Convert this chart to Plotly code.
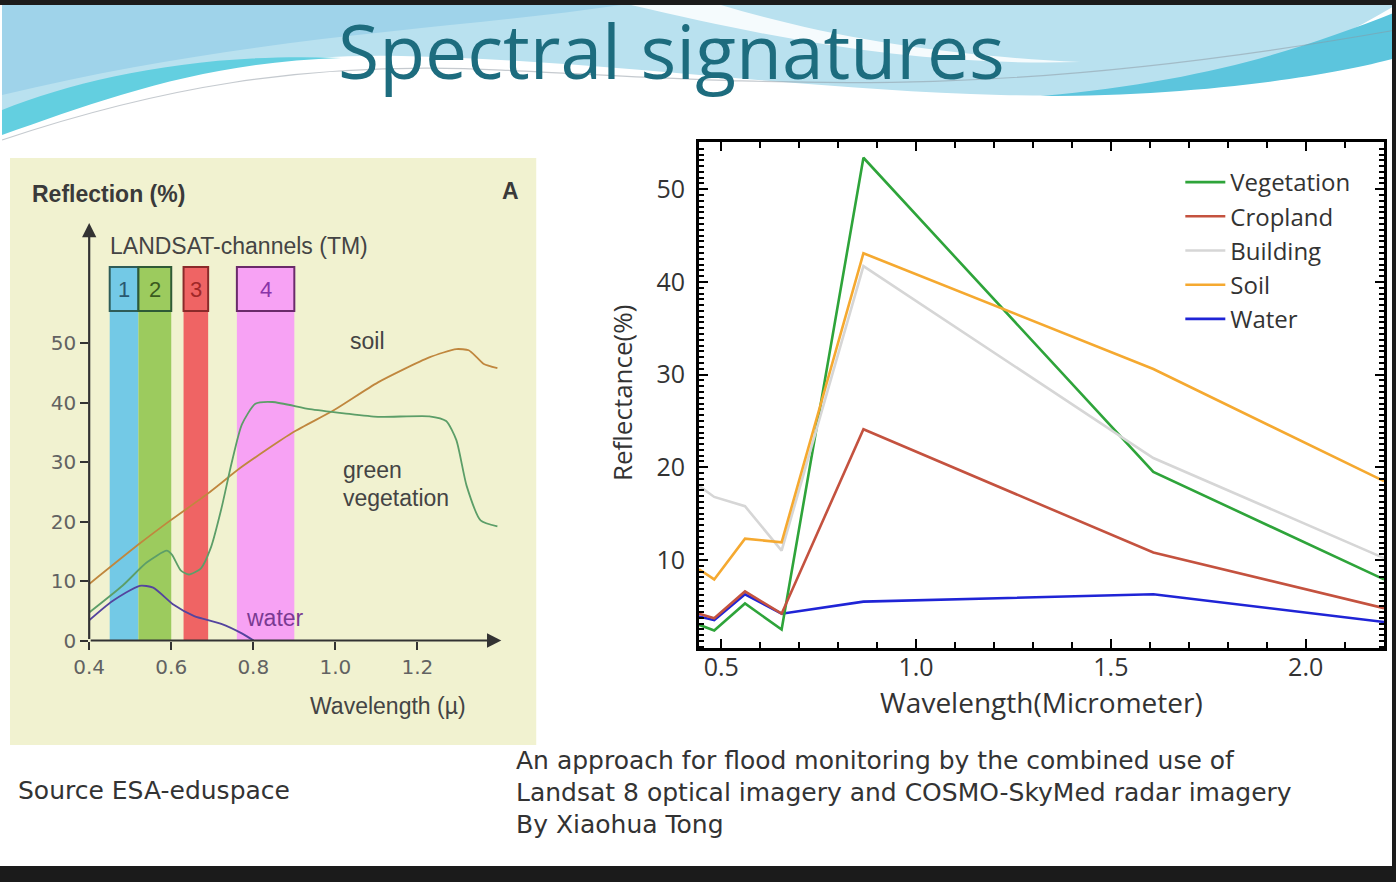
import plotly.graph_objects as go

W, H = 1396, 882
# observed drawing box of the figure inside the page photo
OX, OW, OH = 14, 1382, 870

# ---------------- Right chart: Landsat 8 spectral signatures ----------------
l8_wavelength = [0.443, 0.482, 0.561, 0.655, 0.865, 1.609, 2.201]
vegetation = [3.0, 2.4, 5.3, 2.5, 53.4, 19.5, 7.9]
cropland = [4.2, 3.7, 6.6, 4.2, 24.1, 10.8, 4.8]
building = [18.0, 16.8, 15.8, 11.0, 41.7, 21.0, 10.2]
soil_l8 = [9.0, 7.9, 12.3, 11.9, 43.1, 30.6, 18.5]
water_l8 = [3.9, 3.5, 6.3, 4.2, 5.5, 6.3, 3.3]
right_xticks = [0.5, 1.0, 1.5, 2.0]
right_xticktext = ["0.5", "1.0", "1.5", "2.0"]
right_yticks = [10, 20, 30, 40, 50]

# ---------------- Left chart: ESA eduspace (TM channels) ----------------
soil_wl = [0.40, 0.523, 0.598, 0.689, 0.772, 0.897, 0.996, 1.104, 1.229, 1.295, 1.325, 1.345, 1.362, 1.395]
soil_ref = [9.5, 16.3, 20.2, 24.7, 29.2, 35.0, 38.7, 43.4, 47.6, 49.0, 48.8, 47.6, 46.5, 45.8]
veg_wl = [0.40, 0.481, 0.54, 0.589, 0.602, 0.623, 0.643, 0.672, 0.697, 0.722, 0.747, 0.772,
          0.805, 0.847, 0.938, 1.021, 1.104, 1.229, 1.27, 1.295, 1.32, 1.354, 1.395]
veg_ref = [4.7, 9.2, 13.1, 15.1, 14.4, 11.8, 11.1, 12.1, 15.7, 22.1, 29.8, 36.3,
           39.8, 40.1, 38.9, 38.2, 37.6, 37.7, 36.9, 33.7, 26.0, 20.2, 19.2]
water_wl = [0.40, 0.456, 0.523, 0.556, 0.606, 0.656, 0.722, 0.772, 0.801]
water_ref = [3.4, 6.6, 9.2, 8.9, 6.0, 4.1, 2.8, 1.2, 0.0]
tm_band_labels = ["1", "2", "3", "4"]
tm_band_lo = [0.45, 0.52, 0.63, 0.76]
tm_band_hi = [0.52, 0.60, 0.69, 0.90]
left_xticks = [0.4, 0.6, 0.8, 1.0, 1.2]
left_xticktext = ["0.4", "0.6", "0.8", "1.0", "1.2"]
left_yticks = [0, 10, 20, 30, 40, 50]

band_fill = ["#73c9e6", "#9ccb5e", "#ef6464", "#f7a2f4"]
band_edge = ["#2e5c58", "#2e5a36", "#8a2a2a", "#6a2a6a"]
band_text = ["#2a5870", "#3a5a1e", "#a02828", "#8a34a8"]
BOX_LO, BOX_HI = 55.4, 62.8


def px(x):
    return (x - OX) / OW


def py(y):
    return 1 - y / OH


def ppath(cmds):
    s = ""
    for c, pts in cmds:
        s += c + " " + " ".join(f"{px(a):.5f},{py(b):.5f}" for a, b in pts) + " "
    return s + "Z"


fig = go.Figure()

# left chart traces
fig.add_trace(go.Scatter(x=soil_wl, y=soil_ref, mode="lines", xaxis="x2", yaxis="y2",
                         line=dict(color="#c0873e", width=1.8, shape="spline", smoothing=0.6),
                         showlegend=False, hoverinfo="skip"))
fig.add_trace(go.Scatter(x=veg_wl, y=veg_ref, mode="lines", xaxis="x2", yaxis="y2",
                         line=dict(color="#5c9e68", width=1.8, shape="spline", smoothing=0.6),
                         showlegend=False, hoverinfo="skip"))
fig.add_trace(go.Scatter(x=water_wl, y=water_ref, mode="lines", xaxis="x2", yaxis="y2",
                         line=dict(color="#54449e", width=1.8, shape="spline", smoothing=0.6),
                         showlegend=False, hoverinfo="skip"))

# right chart traces (water drawn first, listed last in legend)
fig.add_trace(go.Scatter(x=l8_wavelength, y=water_l8, mode="lines", name="Water", legendrank=5,
                         line=dict(color="#1f24d6", width=2.6)))
fig.add_trace(go.Scatter(x=l8_wavelength, y=vegetation, mode="lines", name="Vegetation", legendrank=1,
                         line=dict(color="#2ea43a", width=2.6)))
fig.add_trace(go.Scatter(x=l8_wavelength, y=cropland, mode="lines", name="Cropland", legendrank=2,
                         line=dict(color="#c4523f", width=2.6)))
fig.add_trace(go.Scatter(x=l8_wavelength, y=building, mode="lines", name="Building", legendrank=3,
                         line=dict(color="#d6d6d6", width=2.6)))
fig.add_trace(go.Scatter(x=l8_wavelength, y=soil_l8, mode="lines", name="Soil", legendrank=4,
                         line=dict(color="#f5a930", width=2.6)))

shapes = []
# slide background decoration
shapes.append(dict(type="path", xref="paper", yref="paper", layer="below", line=dict(width=0),
                   fillcolor="#b9e1ef",
                   path=ppath([("M", [(0, 5)]), ("L", [(1396, 5), (1396, 62)]),
                               ("C", [(1250, 92), (1150, 98), (1000, 95)]),
                               ("C", [(800, 90), (600, 60), (400, 56)]),
                               ("C", [(250, 52), (100, 90), (0, 130)])])))
shapes.append(dict(type="path", xref="paper", yref="paper", layer="below", line=dict(width=0),
                   fillcolor="#9fd3ea",
                   path=ppath([("M", [(0, 5)]), ("L", [(620, 5)]),
                               ("C", [(450, 30), (250, 35), (0, 95)])])))
shapes.append(dict(type="path", xref="paper", yref="paper", layer="below", line=dict(width=0),
                   fillcolor="rgba(255,255,255,0.85)",
                   path=ppath([("M", [(630, 5)]), ("L", [(720, 5)]),
                               ("C", [(820, 35), (930, 55), (1080, 62)]),
                               ("C", [(930, 66), (800, 45), (630, 5)])])))
shapes.append(dict(type="path", xref="paper", yref="paper", layer="below", line=dict(width=0),
                   fillcolor="#63cfe0",
                   path=ppath([("M", [(0, 110)]), ("C", [(80, 78), (200, 52), (340, 58)]),
                               ("C", [(200, 62), (100, 100), (0, 135)])])))
shapes.append(dict(type="path", xref="paper", yref="paper", layer="below", line=dict(width=0),
                   fillcolor="#5cc5dd",
                   path=ppath([("M", [(1396, 12)]), ("C", [(1300, 50), (1200, 82), (1040, 96)]),
                               ("C", [(1200, 96), (1330, 76), (1396, 58)])])))
shapes.append(dict(type="path", xref="paper", yref="paper", layer="below",
                   line=dict(width=1.2, color="rgba(140,150,160,0.5)"), fillcolor="rgba(0,0,0,0)",
                   path="M " + f"{px(0):.4f},{py(140):.4f} C {px(150):.4f},{py(90):.4f} {px(300):.4f},{py(60):.4f} {px(500):.4f},{py(70):.4f} C {px(800):.4f},{py(85):.4f} {px(1000):.4f},{py(100):.4f} {px(1396):.4f},{py(30):.4f}"))
# left panel background
shapes.append(dict(type="rect", xref="paper", yref="paper", layer="below", line=dict(width=0),
                   fillcolor="#f1f2d0", x0=px(8), x1=px(535), y0=py(745), y1=py(158)))
# TM band columns and label boxes
for i in range(len(tm_band_labels)):
    shapes.append(dict(type="rect", xref="x2", yref="y2", layer="below", line=dict(width=0),
                       fillcolor=band_fill[i], x0=tm_band_lo[i], x1=tm_band_hi[i], y0=0, y1=BOX_LO))
    shapes.append(dict(type="rect", xref="x2", yref="y2", layer="below",
                       line=dict(width=2, color=band_edge[i]),
                       fillcolor=band_fill[i], x0=tm_band_lo[i], x1=tm_band_hi[i], y0=BOX_LO, y1=BOX_HI))
# slide borders
shapes.append(dict(type="rect", xref="paper", yref="paper", layer="above", line=dict(width=0),
                   fillcolor="#1b1b1b", x0=-0.05, x1=1.05, y0=py(5), y1=1.05))
shapes.append(dict(type="rect", xref="paper", yref="paper", layer="above", line=dict(width=0),
                   fillcolor="#1b1b1b", x0=-0.05, x1=1.05, y0=-0.05, y1=py(866)))
shapes.append(dict(type="rect", xref="paper", yref="paper", layer="above", line=dict(width=0),
                   fillcolor="#1b1b1b", x0=px(1392), x1=1.05, y0=-0.05, y1=1.05))

LS = "Liberation Sans"
OS = "Open Sans"
DV = "DejaVu Sans"
annotations = []


def txt(text, x, y, size, color, family=LS, xanchor="center", yanchor="middle", **kw):
    annotations.append(dict(text=text, x=px(x), y=py(y), xref="paper", yref="paper",
                            showarrow=False, xanchor=xanchor, yanchor=yanchor,
                            font=dict(size=size, color=color, family=family), **kw))


# Title
txt("Spectral signatures", 670, 50, 75, "#1d6c7e", family=OS)
# Left chart texts
txt("<b>Reflection (%)</b>", 28, 194, 23, "#3a3a3a", xanchor="left")
txt("<b>A</b>", 509, 191, 23, "#3a3a3a")
txt("LANDSAT-channels (TM)", 237, 246, 23, "#444444")
txt("soil", 366, 341, 23, "#444444")
txt("green", 371, 470, 23, "#444444")
txt("vegetation", 395, 498, 23, "#444444")
txt("water", 273, 618, 23, "#7a3a92")
txt("Wavelength (\u00b5)", 387, 706, 23, "#444444")
for i, lab in enumerate(tm_band_labels):
    annotations.append(dict(text=lab, x=(tm_band_lo[i] + tm_band_hi[i]) / 2, y=(BOX_LO + BOX_HI) / 2,
                            xref="x2", yref="y2", showarrow=False,
                            font=dict(size=22, color=band_text[i], family=LS)))
# arrow axes of left chart
annotations.append(dict(x=1.4045, y=0, ax=0.4, ay=0, xref="x2", yref="y2", axref="x2", ayref="y2",
                        text="", showarrow=True, arrowhead=2, arrowsize=1.3, arrowwidth=2.2,
                        arrowcolor="#333333"))
annotations.append(dict(x=0.4, y=70.2, ax=0.4, ay=0, xref="x2", yref="y2", axref="x2", ayref="y2",
                        text="", showarrow=True, arrowhead=2, arrowsize=1.3, arrowwidth=2.2,
                        arrowcolor="#333333"))
# Right chart axis titles
txt("Reflectance(%)", 621, 393, 26, "#333333", family=OS, textangle=-90)
txt("Wavelength(Micrometer)", 1041, 702, 28, "#333333", family=OS)
# Bottom captions
txt("Source ESA-eduspace", 14, 790, 25, "#333333", family=DV, xanchor="left")
txt("An approach for flood monitoring by the combined use of", 513, 760, 25, "#333333",
    family=DV, xanchor="left")
txt("Landsat 8 optical imagery and COSMO-SkyMed radar imagery", 513, 792, 25, "#333333",
    family=DV, xanchor="left")
txt("By Xiaohua Tong", 513, 824, 25, "#333333", family=DV, xanchor="left")

fig.update_layout(
    width=W, height=H, margin=dict(l=0, r=0, t=0, b=0),
    paper_bgcolor="white", plot_bgcolor="rgba(0,0,0,0)",
    shapes=shapes, annotations=annotations,
    showlegend=True,
    legend=dict(x=px(1180), y=py(160), xanchor="left", yanchor="top", bgcolor="rgba(0,0,0,0)",
                font=dict(family=OS, size=24, color="#333333"), tracegroupgap=0,
                itemwidth=40),
    xaxis=dict(domain=[px(698), px(1384)], range=[0.443, 2.201], anchor="y",
               tickvals=right_xticks, ticktext=right_xticktext, ticks="inside", ticklen=9,
               tickwidth=2, tickcolor="black", showline=True, linewidth=3, linecolor="black",
               mirror="allticks", showgrid=False, zeroline=False, ticklabelstandoff=-5,
               tickfont=dict(family=OS, size=25, color="#333333"),
               minor=dict(ticks="inside", dtick=0.1, tick0=0.5, ticklen=6, tickwidth=1.6,
                          tickcolor="black", showgrid=False)),
    yaxis=dict(domain=[py(648), py(142)], range=[0.5, 55.1], anchor="x",
               tickvals=right_yticks, ticks="inside", ticklen=9, tickwidth=2, tickcolor="black",
               showline=True, linewidth=3, linecolor="black", mirror="allticks",
               showgrid=False, zeroline=False, ticklabelstandoff=6,
               tickfont=dict(family=OS, size=25, color="#333333"),
               minor=dict(ticks="inside", dtick=0.625, tick0=0, ticklen=5, tickwidth=1.5,
                          tickcolor="black", showgrid=False)),
    xaxis2=dict(domain=[px(87.3), px(500)], range=[0.4, 1.4045], anchor="y2",
                tickvals=left_xticks, ticktext=left_xticktext, ticks="outside", ticklen=8,
                tickwidth=2, tickcolor="#333333", showline=False, showgrid=False, zeroline=False,
                tickfont=dict(family=DV, size=20, color="#626262")),
    yaxis2=dict(domain=[py(640.5), py(223)], range=[0, 70.2], anchor="x2",
                tickvals=left_yticks, ticks="outside", ticklen=8, tickwidth=2,
                tickcolor="#333333", showline=False, showgrid=False, zeroline=False,
                tickfont=dict(family=DV, size=20, color="#626262")),
)

fig.write_html("out.html")
